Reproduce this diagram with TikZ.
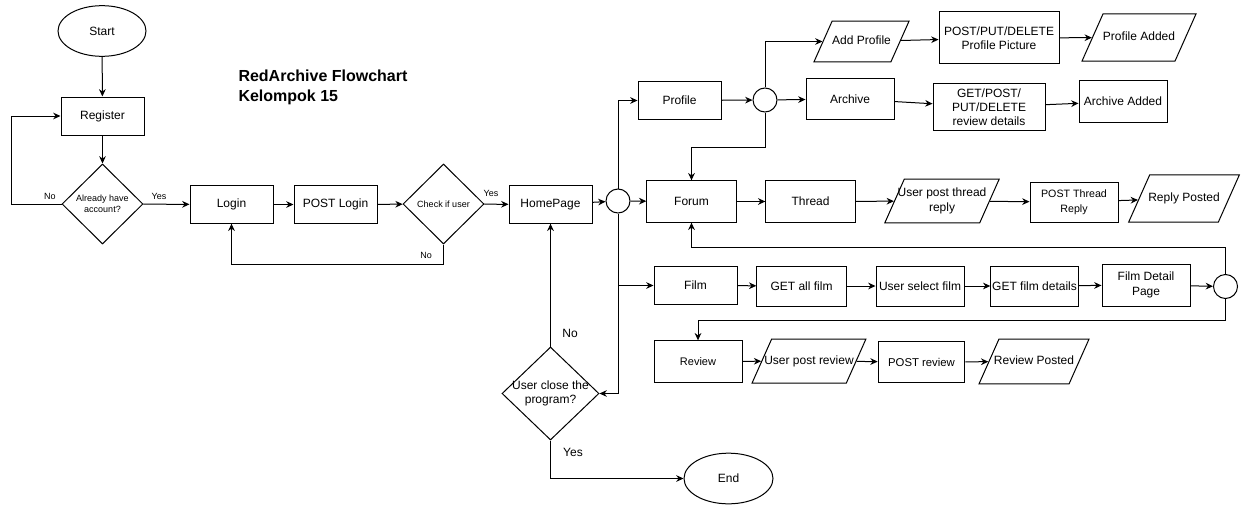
\documentclass[tikz,border=0pt]{standalone}
\usepackage{fontspec}
\setmainfont{Liberation Sans}
\usetikzlibrary{shapes.geometric,arrows.meta}

\begin{document}
\begin{tikzpicture}[x=0.75pt,y=-0.75pt,line width=0.75pt,>={Stealth[length=5.5pt,width=5pt]},
  font=\fontsize{9}{10.8}\selectfont,
  box/.style={draw,rectangle,fill=white,align=center,inner sep=1pt,minimum width=66pt,minimum height=30pt},
  para/.style={draw,trapezium,trapezium left angle=66,trapezium right angle=114,trapezium stretches body,fill=white,align=center,inner xsep=0pt,text height=6.6pt,text depth=1.9pt},
  decision/.style={draw,diamond,fill=white,align=center,inner sep=0pt,minimum width=60.75pt,minimum height=60pt},
  term/.style={draw,ellipse,fill=white,minimum width=66pt,minimum height=38pt},
  junc/.style={draw,circle,fill=white,minimum size=18pt,inner sep=0pt},
  small/.style={font=\fontsize{6.75}{8}\selectfont}]
\useasboundingbox (0,0) rectangle (1245,510);

% title
\node (title)[anchor=west,align=left,inner sep=0pt,font=\fontsize{12}{15}\selectfont\bfseries] at (238,87) {RedArchive Flowchart\\Kelompok 15};

% login part
\node (start)[term] at (102,31) {Start};
\node (reg)[box,minimum width=62.25pt,minimum height=28.5pt] at (102.5,116) {Register};
\node (acc)[decision,small] at (102.5,204) {Already have\\account?};
\node (login)[box,minimum width=62.25pt,minimum height=28pt] at (231.5,204.5) {Login};
\node (plogin)[box,minimum width=62.25pt,minimum height=28pt] at (335.5,204.5) {POST Login};
\node (chk)[decision,small] at (443.5,204) {Check if user};
\node (home)[box,minimum width=62.25pt,minimum height=28pt] at (550.5,204.5) {HomePage};
\node (j1)[junc] at (618,201) {};
\node (close)[decision,inner sep=-2.5pt,minimum width=72.75pt,minimum height=69.75pt] at (550.5,393.5) {User close the\\program?};
\node (end)[term,minimum width=66.75pt] at (728.5,478.5) {End};

% profile
\node (prof)[box,minimum width=62.25pt,minimum height=29pt] at (679.5,100.5) {Profile};
\node (j2)[junc] at (765,100) {};
\node (addp)[para,inner ysep=11.1pt,minimum width=69.75pt] at (861.5,41.5) {Add Profile};
\node (ppic)[box,minimum width=90pt,minimum height=39pt] at (999,38) {POST/PUT/DELETE\\Profile Picture};
\node (padd)[para,inner ysep=13.4pt,minimum width=82.5pt] at (1139,37.5) {Profile Added};
\node (arch)[box] at (850,99) {Archive};
\node (rdet)[box,minimum width=84pt,minimum height=34.5pt,font=\fontsize{9}{10.3}\selectfont] at (989,107) {GET/POST/\\PUT/DELETE\\review details};
\node (aadd)[box,minimum height=31pt] at (1123,101.5) {Archive Added};

% forum
\node (forum)[box,minimum width=67pt,minimum height=31pt] at (691.5,201.5) {Forum};
\node (thread)[box,minimum width=67pt,minimum height=31pt] at (810.5,201.5) {Thread};
\node (upt)[para,text height=,text depth=,inner ysep=6.85pt,inner xsep=-5pt,minimum width=85.5pt] at (942,201) {User post thread\\reply};
\node (ptr)[box,font=\fontsize{8}{11}\selectfont] at (1074,202) {POST Thread\\Reply};
\node (rpost)[para,inner ysep=13.4pt,inner xsep=-1pt,minimum width=82.5pt] at (1184,198.5) {Reply Posted};

% film
\node (film)[box,minimum width=62.25pt,minimum height=28pt] at (695.5,285.5) {Film};
\node (getall)[box,minimum width=67pt] at (801.5,286) {GET all film};
\node (usel)[box] at (920,286) {User select film};
\node (getdet)[box,minimum width=65pt] at (1034.5,286) {GET film details};
\node (fdp)[box,minimum height=31.5pt] at (1146,285) {Film Detail\\Page};
\node (j3)[junc] at (1225.5,286.5) {};

% review
\node (review)[box,minimum height=31pt,font=\fontsize{8.25}{10}\selectfont] at (698,361.5) {Review};
\node (upr)[para,inner ysep=12.25pt,inner xsep=-5.5pt,minimum width=84pt] at (809,361) {User post review};
\node (prev)[box,minimum width=65pt,minimum height=31pt,font=\fontsize{8.5}{10}\selectfont] at (921.5,362) {POST review};
\node (revp)[para,inner ysep=12.6pt,inner xsep=-3.75pt,minimum width=82.5pt] at (1034,361.5) {Review Posted};

% labels
\node (no1)[small] at (50,196) {No};
\node (yes1)[small] at (159,196) {Yes};
\node (yes2)[small] at (491,193) {Yes};
\node (no2)[small] at (426,255) {No};
\node (no3) at (570,333) {No};
\node (yes3) at (573,452) {Yes};

% arrows
\draw[->] (start) -- (reg);
\draw[->] (reg) -- (acc);
\draw[->] (acc.west) -- ++(-50,0) |- (reg.west);
\draw[->] (acc) -- (login);
\draw[->] (login) -- (plogin);
\draw[->] (plogin) -- (chk);
\draw[->] (chk.south) -- ++(0,20) -| (login.south);
\draw[->] (chk) -- (home);
\draw[->] (home) -- (j1);
\draw[->] (j1.north) |- (prof.west);
\draw[->] (j1) -- (forum);
\draw[->] (j1.south) |- (close.east);
\draw[->] (j1.south |- film.west) -- (film.west);
\draw[->] (close.north) -- (home.south);
\draw[->] (close.south) |- (end.west);

\draw[->] (prof) -- (j2);
\draw[->] (j2) -- (arch);
\draw[->] (j2.north) |- (addp.west);
\draw[->] (j2.south) -- ++(0,35) -| (forum.north);
\draw[->] (addp) -- (ppic);
\draw[->] (ppic) -- (padd);
\draw[->] (arch) -- (rdet);
\draw[->] (rdet) -- (aadd);

\draw[->] (forum) -- (thread);
\draw[->] (thread) -- (upt);
\draw[->] (upt) -- (ptr);
\draw[->] (ptr) -- (rpost);

\draw[->] (film) -- (getall);
\draw[->] (getall) -- (usel);
\draw[->] (usel) -- (getdet);
\draw[->] (getdet) -- (fdp);
\draw[->] (fdp) -- (j3);
\draw[->] (j3.north) -- ++(0,-26.5) -| (forum.south);
\draw[->] (j3.south) -- ++(0,21) -| (review.north);

\draw[->] (review) -- (upr);
\draw[->] (upr) -- (prev);
\draw[->] (prev) -- (revp);

\end{tikzpicture}
\end{document}
